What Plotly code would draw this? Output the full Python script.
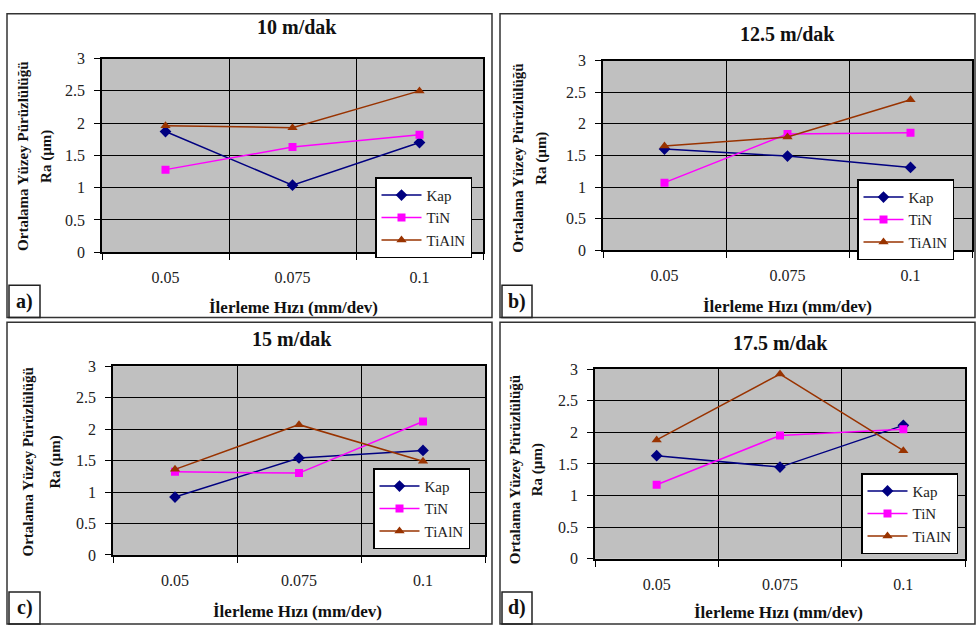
import plotly.graph_objects as go

W, H = 976, 634

# ---- data ----
feed_rates = ["0.05", "0.075", "0.1"]
speeds = ["10 m/dak", "12.5 m/dak", "15 m/dak", "17.5 m/dak"]
panel_labels = ["a)", "b)", "c)", "d)"]
series_names = ["Kap", "TiN", "TiAlN"]

kap_10 = [1.87, 1.04, 1.70]
tin_10 = [1.28, 1.63, 1.82]
tialn_10 = [1.96, 1.93, 2.50]

kap_125 = [1.60, 1.49, 1.31]
tin_125 = [1.07, 1.84, 1.86]
tialn_125 = [1.65, 1.79, 2.38]

kap_15 = [0.92, 1.54, 1.66]
tin_15 = [1.32, 1.30, 2.12]
tialn_15 = [1.36, 2.07, 1.49]

kap_175 = [1.63, 1.45, 2.11]
tin_175 = [1.17, 1.95, 2.05]
tialn_175 = [1.88, 2.92, 1.71]

panel_data = [
    [kap_10, tin_10, tialn_10],
    [kap_125, tin_125, tialn_125],
    [kap_15, tin_15, tialn_15],
    [kap_175, tin_175, tialn_175],
]

# ---- styling / layout (pixels) ----
colors = ["#000080", "#FF00FF", "#993300"]
symbols = ["diamond", "square", "triangle-up"]
msizes = [9, 8, 9]
FONT = "Liberation Serif"

plots = [(102, 483, 52, 251), (603, 972, 54, 249), (113, 485, 368, 562), (595, 965, 371, 566)]
frames = [(7, 492, 6, 318), (500, 975, 6, 318), (7, 492, 323, 633), (500, 975, 323, 633)]
titles_pos = [(297, 20), (787, 27), (292, 340), (780, 344)]
xtitle_pos = [(293, 308), (787, 307), (297, 620), (778, 621)]
ytitle1_pos = [(23, 153), (518, 155), (28, 467), (515, 475)]
ytitle2_pos = [(47, 153), (542, 155), (55, 467), (537, 475)]
legend_pos = [(375, 174), (857, 176), (373, 473), (861, 478)]
labelbox = [(9, 40, 285, 318), (502, 532, 285, 318), (9, 40, 600, 633), (502, 532, 600, 633)]


def fx(v):
    v = min(max(v, 0.75), W - 0.75)
    return v / W


def fy(v):
    v = min(max(v, 0.75), H - 0.75)
    return 1 - v / H


def note(text, x, y, size, angle=0):
    return dict(text=text, xref="paper", yref="paper", x=fx(x), y=fy(y),
                xanchor="center", yanchor="middle", showarrow=False,
                textangle=angle, font=dict(family=FONT, size=size, color="#111"))


fig = go.Figure()
layout = {}
shapes = []
annotations = []

for i in range(4):
    sfx = "" if i == 0 else str(i + 1)
    xa, ya = "x" + sfx, "y" + sfx
    leg = "legend" + sfx
    for name, vals, c, s, ms in zip(series_names, panel_data[i], colors, symbols, msizes):
        fig.add_trace(go.Scatter(
            x=feed_rates, y=vals, name=name, mode="lines+markers",
            line=dict(color=c, width=1.5),
            marker=dict(symbol=s, size=ms, color=c),
            xaxis=xa, yaxis=ya, legend=leg, showlegend=True,
        ))
    x0, x1, yt, yb = plots[i]
    layout["xaxis" + sfx] = dict(
        domain=[fx(x0), fx(x1)], anchor=ya, type="category",
        tickson="boundaries", range=[-0.5, 2.5],
        showgrid=True, gridcolor="black", gridwidth=1.2,
        ticks="outside", ticklen=6, tickcolor="black", tickwidth=1.2,
        showline=True, linecolor="black", linewidth=1.5, mirror=True,
        tickfont=dict(family=FONT, size=16, color="#222"),
        ticklabelstandoff=10, zeroline=False,
    )
    layout["yaxis" + sfx] = dict(
        domain=[fy(yb), fy(yt)], anchor=xa, range=[0, 3], dtick=0.5,
        showgrid=True, gridcolor="black", gridwidth=1.2,
        ticks="outside", ticklen=6, tickcolor="black", tickwidth=1.2,
        showline=True, linecolor="black", linewidth=1.5, mirror=True,
        tickfont=dict(family=FONT, size=16, color="#222"),
        ticklabelstandoff=6, zeroline=False,
    )
    lx, ly = legend_pos[i]
    layout[leg] = dict(
        x=fx(lx), y=fy(ly), xanchor="left", yanchor="top",
        bgcolor="white", bordercolor="black", borderwidth=1.5,
        font=dict(family=FONT, size=15, color="#222"), tracegroupgap=0,
        itemwidth=40,
    )
    a0, a1, b0, b1 = frames[i]
    shapes.append(dict(type="rect", xref="paper", yref="paper",
                       x0=fx(a0), x1=fx(a1), y0=fy(b1), y1=fy(b0),
                       line=dict(color="#333", width=1.5)))
    c0, c1, d0, d1 = labelbox[i]
    shapes.append(dict(type="rect", xref="paper", yref="paper",
                       x0=fx(c0), x1=fx(c1), y0=fy(d1), y1=fy(d0),
                       line=dict(color="#222", width=1.5)))
    annotations.append(note("<b>" + panel_labels[i] + "</b>", (c0 + c1) / 2, (d0 + d1) / 2, 20))
    tx, ty = titles_pos[i]
    annotations.append(note("<b>" + speeds[i] + "</b>", tx, ty, 20))
    qx, qy = xtitle_pos[i]
    annotations.append(note("<b>İlerleme Hızı (mm/dev)</b>", qx, qy, 17))
    r1x, r1y = ytitle1_pos[i]
    annotations.append(note("<b>Ortalama Yüzey Pürüzlülüğü</b>", r1x, r1y, 15, -90))
    r2x, r2y = ytitle2_pos[i]
    annotations.append(note("<b>Ra (µm)</b>", r2x, r2y, 15, -90))

fig.update_layout(
    width=W, height=H, margin=dict(l=0, r=0, t=0, b=0),
    paper_bgcolor="white", plot_bgcolor="#C0C0C0",
    shapes=shapes, annotations=annotations, **layout,
)

fig.write_html("out.html", config={"displayModeBar": False},
               post_script="document.body.style.margin='0';")
